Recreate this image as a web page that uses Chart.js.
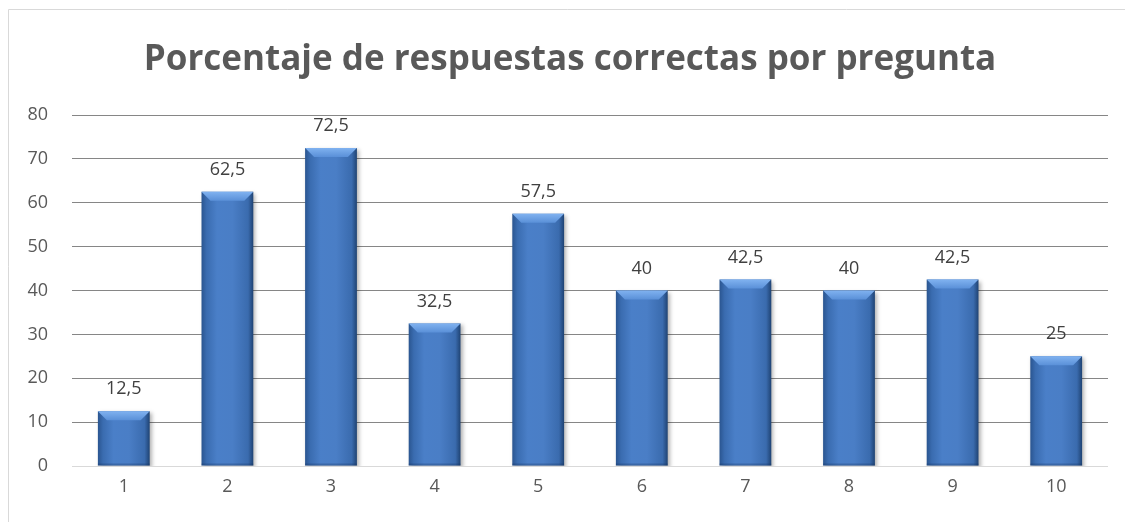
<!DOCTYPE html>
<html>
<head>
<meta charset="utf-8">
<script src="https://cdn.jsdelivr.net/npm/chart.js@4.4.0/dist/chart.umd.min.js"></script>
<style>
  html, body { margin: 0; padding: 0; background: #ffffff; }
  #wrap { width: 1125px; height: 522px; position: relative; }
</style>
</head>
<body>
<div id="wrap"><canvas id="chart" width="1125" height="522"></canvas></div>
<script>
const preguntas = ["1", "2", "3", "4", "5", "6", "7", "8", "9", "10"];
const porcentajes = [12.5, 62.5, 72.5, 32.5, 57.5, 40, 42.5, 40, 42.5, 25];
const yTicks = [0, 10, 20, 30, 40, 50, 60, 70, 80];
const tituloGrafico = "Porcentaje de respuestas correctas por pregunta";

function formatComa(value) {
    return String(value).replace(".", ",");
}

// outer frame of the chart object and the title
const framePlugin = {
    id: "frame",
    beforeDraw(chart) {
        const ctx = chart.ctx;
        ctx.save();
        ctx.strokeStyle = "#d9d9d9";
        ctx.lineWidth = 1;
        ctx.beginPath();
        ctx.moveTo(8.5, 600);
        ctx.lineTo(8.5, 9.5);
        ctx.lineTo(1200, 9.5);
        ctx.stroke();

        ctx.fillStyle = "#595959";
        ctx.font = "bold 35px 'Open Sans', sans-serif";
        ctx.textAlign = "center";
        ctx.textBaseline = "alphabetic";
        ctx.fillText(tituloGrafico, 570, 70);
        ctx.restore();
    }
};

// horizontal gradient for the bars, placed from the x scale
function barFill(context) {
    const chart = context.chart;
    const xScale = chart.scales.x;
    if (!chart.chartArea || !xScale) {
        return "#4a7ec6";
    }
    const center = xScale.getPixelForValue(context.dataIndex);
    const half = xScale.width / preguntas.length * 0.5 / 2;
    if (isNaN(center)) {
        return "#4a7ec6";
    }
    const g = chart.ctx.createLinearGradient(center - half, 0, center + half, 0);
    g.addColorStop(0, "#2a5590");
    g.addColorStop(0.1, "#3a6cb0");
    g.addColorStop(0.3, "#4a7fc8");
    g.addColorStop(0.6, "#4a7ec6");
    g.addColorStop(0.9, "#3a6bae");
    g.addColorStop(1, "#1f4373");
    return g;
}

// bevel on top of each bar, shadow, and value labels
const bevelPlugin = {
    id: "bevel",
    beforeDatasetsDraw(chart) {
        const ctx = chart.ctx;
        ctx.save();
        ctx.shadowColor = "rgba(0, 0, 0, 0.3)";
        ctx.shadowBlur = 4;
        ctx.shadowOffsetX = 2;
        ctx.shadowOffsetY = 2;
    },
    afterDatasetsDraw(chart) {
        const ctx = chart.ctx;
        ctx.restore();
        const meta = chart.getDatasetMeta(0);
        meta.data.forEach(function (bar, i) {
            const left = bar.x - bar.width / 2;
            const right = bar.x + bar.width / 2;
            const top = bar.y;
            const bottom = bar.base;
            const b = 9;
            ctx.save();
            const g = ctx.createLinearGradient(0, top, 0, top + b);
            g.addColorStop(0, "#80b2f0");
            g.addColorStop(1, "#5a90d8");
            ctx.fillStyle = g;
            ctx.beginPath();
            ctx.moveTo(left, top);
            ctx.lineTo(right, top);
            ctx.lineTo(right - b, top + b);
            ctx.lineTo(left + b, top + b);
            ctx.closePath();
            ctx.fill();
            ctx.fillStyle = "rgba(20, 50, 95, 0.3)";
            ctx.fillRect(left, bottom - 2, right - left, 2);
            ctx.restore();

            ctx.save();
            ctx.fillStyle = "#404040";
            ctx.font = "18px 'Open Sans', sans-serif";
            ctx.textAlign = "center";
            ctx.textBaseline = "bottom";
            ctx.fillText(formatComa(porcentajes[i]), bar.x, top - 13);
            ctx.restore();
        });
    }
};

const canvas = document.getElementById("chart");

new Chart(canvas, {
    type: "bar",
    data: {
        labels: preguntas,
        datasets: [
            {
                data: porcentajes,
                backgroundColor: barFill,
                borderWidth: 0,
                barPercentage: 1,
                categoryPercentage: 0.5
            }
        ]
    },
    options: {
        responsive: false,
        animation: false,
        devicePixelRatio: 1,
        layout: {
            padding: { left: 0, right: 17, top: 115, bottom: 0 }
        },
        plugins: {
            legend: { display: false },
            tooltip: { enabled: false },
            title: { display: false }
        },
        scales: {
            x: {
                grid: { display: false, drawTicks: false },
                border: { display: false },
                ticks: {
                    color: "#595959",
                    font: { family: "'Open Sans', sans-serif", size: 18 },
                    padding: 10
                },
                afterFit: function (scale) {
                    scale.height = 56;
                }
            },
            y: {
                min: 0,
                max: 80,
                afterBuildTicks: function (scale) {
                    scale.ticks = yTicks.map(v => ({ value: v }));
                },
                grid: {
                    drawTicks: false,
                    color: function (context) {
                        return context.tick && context.tick.value === 0 ? "#d9d9d9" : "#868686";
                    },
                    lineWidth: 1
                },
                border: { display: false },
                ticks: {
                    color: "#595959",
                    font: { family: "'Open Sans', sans-serif", size: 18 },
                    padding: 24
                },
                afterFit: function (scale) {
                    scale.width = 72;
                }
            }
        }
    },
    plugins: [framePlugin, bevelPlugin]
});
</script>
</body>
</html>
